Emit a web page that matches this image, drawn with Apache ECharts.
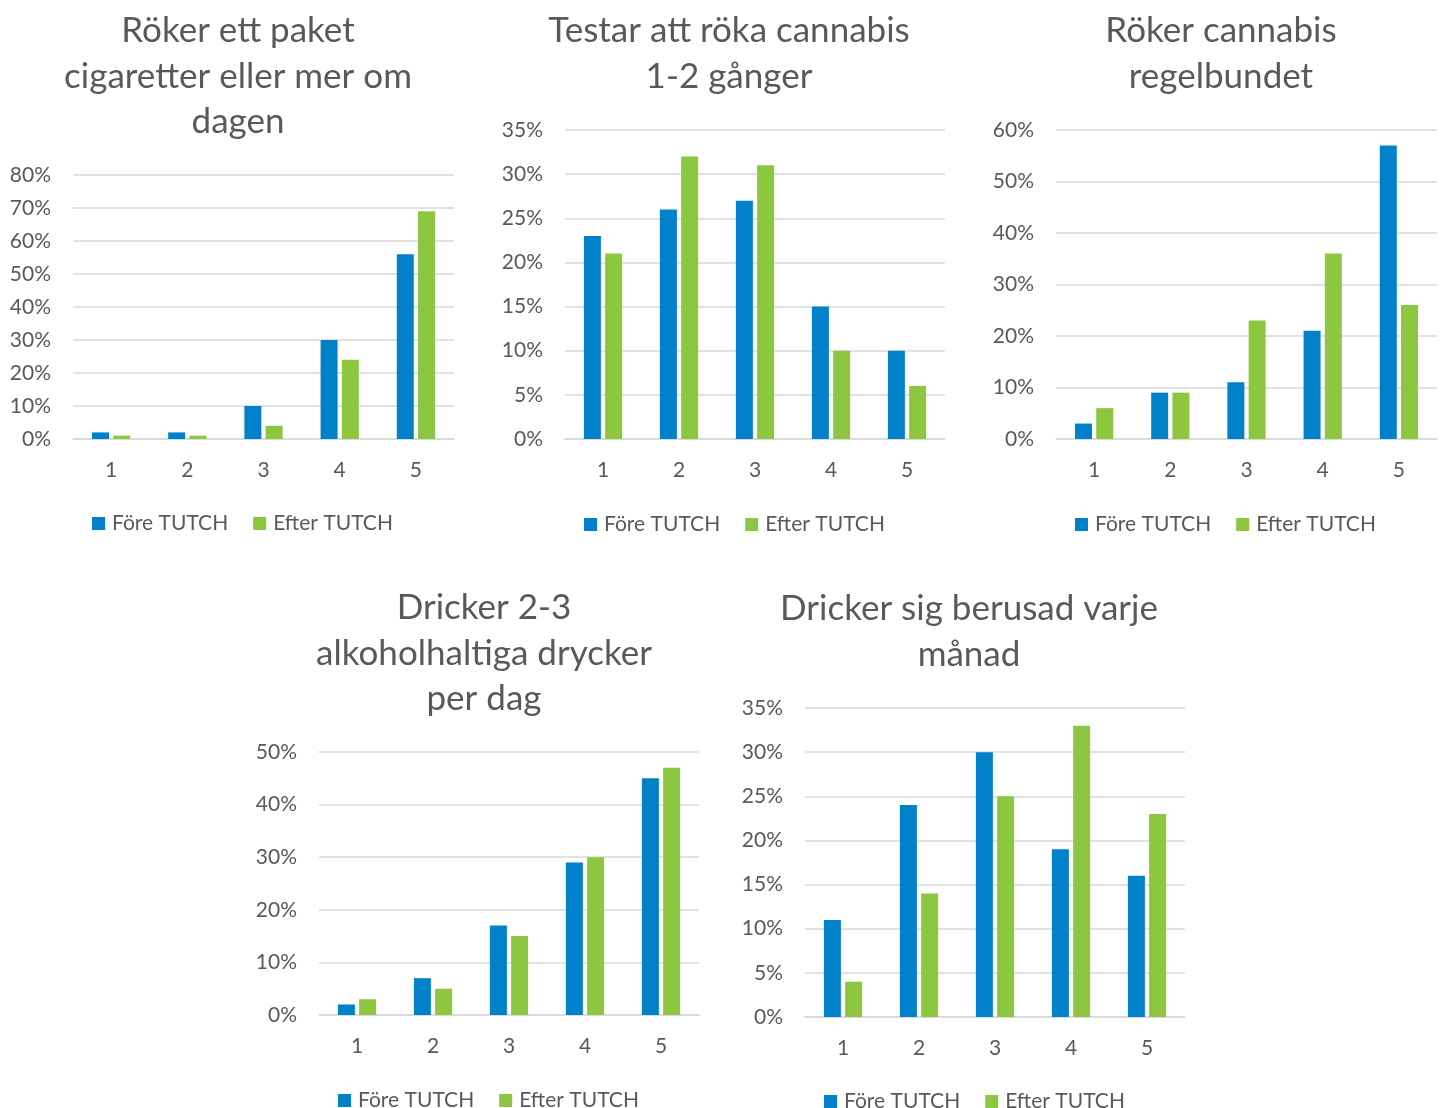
<!DOCTYPE html>
<html>
<head>
<meta charset="utf-8">
<script src="https://cdn.jsdelivr.net/npm/echarts@6/dist/echarts.min.js"></script>
<style>
  html, body { margin: 0; padding: 0; background: #fff; }
  #chart { width: 1443px; height: 1108px; }
</style>
</head>
<body>
<div id="chart"></div>
<script>
const categories = ['1', '2', '3', '4', '5']
const seriesNames = ['Före TUTCH', 'Efter TUTCH']

const titles = [
  'Röker ett paket\ncigaretter eller mer om\ndagen',
  'Testar att röka cannabis\n1-2 gånger',
  'Röker cannabis\nregelbundet',
  'Dricker 2-3\nalkoholhaltiga drycker\nper dag',
  'Dricker sig berusad varje\nmånad'
]

// values in percent
const cigForeValues = [2, 2, 10, 30, 56]
const cigEfterValues = [1, 1, 4, 24, 69]
const testForeValues = [23, 26, 27, 15, 10]
const testEfterValues = [21, 32, 31, 10, 6]
const regForeValues = [3, 9, 11, 21, 57]
const regEfterValues = [6, 9, 23, 36, 26]
const alkForeValues = [2, 7, 17, 29, 45]
const alkEfterValues = [3, 5, 15, 30, 47]
const berForeValues = [11, 24, 30, 19, 16]
const berEfterValues = [4, 14, 25, 33, 23]

const yMax = [80, 35, 60, 50, 35]
const yStep = [10, 5, 10, 10, 5]

const foreData = [cigForeValues, testForeValues, regForeValues, alkForeValues, berForeValues]
const efterData = [cigEfterValues, testEfterValues, regEfterValues, alkEfterValues, berEfterValues]

// plot boxes: left, right, top, bottom (px), title centre x / top, legend top
const panels = [
  { l: 73, r: 454, t: 175, b: 439, tx: 238, ty: 8, ly: 513 },
  { l: 565, r: 945, t: 130, b: 439, tx: 729, ty: 8, ly: 514 },
  { l: 1056, r: 1437, t: 130, b: 439, tx: 1221, ty: 8, ly: 514 },
  { l: 319, r: 699, t: 752, b: 1015, tx: 484, ty: 585, ly: 1090 },
  { l: 805, r: 1185, t: 708, b: 1017, tx: 969, ty: 586, ly: 1091 }
]

const BLUE = '#0081C9'
const GREEN = '#8DC63F'
const TEXT = '#595959'
const GRID = '#D9D9D9'
const FONT = 'Lato, "Open Sans", sans-serif'

const chart = echarts.init(document.getElementById('chart'))

const option = {
  animation: false,
  textStyle: { fontFamily: FONT },
  color: [BLUE, GREEN],
  title: panels.map((p, i) => ({
    text: titles[i],
    left: p.tx,
    top: p.ty,
    textAlign: 'center',
    padding: 0,
    textStyle: { fontSize: 35, fontWeight: 'normal', color: TEXT, lineHeight: 45.5, fontFamily: FONT }
  })),
  legend: panels.map(p => ({
    data: seriesNames,
    left: p.l + 19,
    top: p.ly,
    padding: 0,
    icon: 'rect',
    itemWidth: 13,
    itemHeight: 13,
    itemGap: 25,
    textStyle: { fontSize: 21, color: TEXT, fontFamily: FONT, padding: [0, 0, 0, 2] }
  })),
  grid: panels.map(p => ({
    left: p.l,
    width: p.r - p.l,
    top: p.t,
    height: p.b - p.t
  })),
  xAxis: panels.map((p, i) => ({
    type: 'category',
    gridIndex: i,
    data: categories,
    axisLine: { lineStyle: { color: GRID, width: 1.5 } },
    axisTick: { show: false },
    axisLabel: { color: TEXT, fontSize: 21, margin: 21, fontFamily: FONT }
  })),
  yAxis: panels.map((p, i) => ({
    type: 'value',
    gridIndex: i,
    min: 0,
    max: yMax[i],
    interval: yStep[i],
    axisLine: { show: false },
    axisTick: { show: false },
    splitLine: { lineStyle: { color: GRID, width: 1.5 } },
    axisLabel: { color: TEXT, fontSize: 21, margin: 22, fontFamily: FONT, formatter: '{value}%' }
  })),
  series: panels.flatMap((p, i) => [
    {
      name: seriesNames[0],
      type: 'bar',
      xAxisIndex: i,
      yAxisIndex: i,
      data: foreData[i],
      barWidth: 17,
      barGap: '25%',
      itemStyle: { color: BLUE }
    },
    {
      name: seriesNames[1],
      type: 'bar',
      xAxisIndex: i,
      yAxisIndex: i,
      data: efterData[i],
      barWidth: 17,
      barGap: '25%',
      itemStyle: { color: GREEN }
    }
  ])
}

chart.setOption(option)
</script>
</body>
</html>
